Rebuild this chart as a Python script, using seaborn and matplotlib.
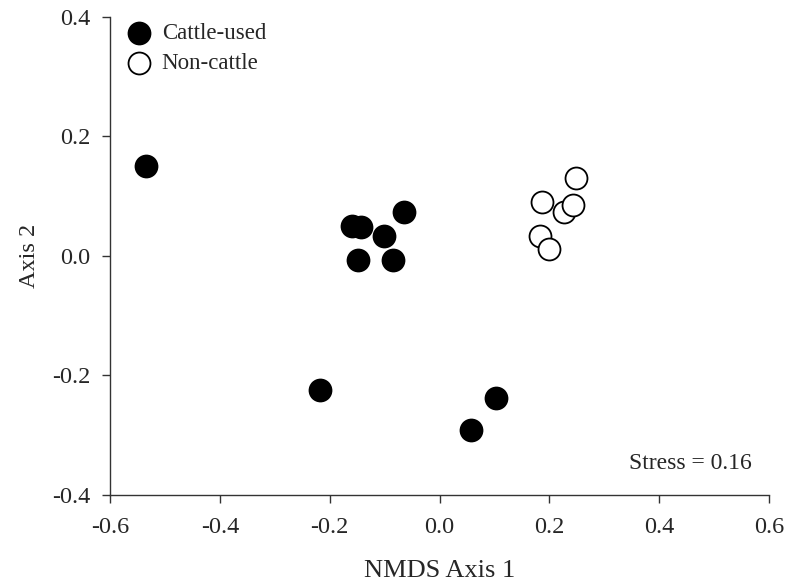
import numpy as np
import pandas as pd
import matplotlib
matplotlib.use("Agg")
import matplotlib.pyplot as plt
import seaborn as sns

# NMDS scores
cattle_x = [-0.534, -0.160, -0.143, -0.064, -0.101, -0.149, -0.085, -0.217, 0.102, 0.058]
cattle_y = [0.151, 0.051, 0.048, 0.073, 0.033, -0.007, -0.006, -0.224, -0.238, -0.291]
noncattle_x = [0.249, 0.186, 0.226, 0.243, 0.183, 0.199]
noncattle_y = [0.130, 0.091, 0.073, 0.086, 0.034, 0.012]
groups = ["Cattle-used", "Non-cattle"]
x_ticks = [-0.6, -0.4, -0.2, 0.0, 0.2, 0.4, 0.6]
y_ticks = [-0.4, -0.2, 0.0, 0.2, 0.4]

df = pd.DataFrame({
    "x": cattle_x + noncattle_x,
    "y": cattle_y + noncattle_y,
    "group": [groups[0]] * len(cattle_x) + [groups[1]] * len(noncattle_x),
})

sns.set_style("ticks")
plt.rcParams["font.family"] = ["Liberation Serif", "DejaVu Serif"]

fig = plt.figure(figsize=(7.89, 5.86), dpi=100)
ax = fig.add_axes([0.1394, 0.1553, 0.8353, 0.8157])

styles = {
    "Cattle-used": dict(color="black", edgecolor="black"),
    "Non-cattle": dict(color="white", edgecolor="black"),
}
for g in groups:
    sns.scatterplot(data=df[df["group"] == g], x="x", y="y", ax=ax, s=250,
                    linewidth=1.3, label=g, zorder=3, **styles[g])

ax.set_xlim(-0.6, 0.6)
ax.set_ylim(-0.4, 0.4)
ax.set_xticks(x_ticks)
ax.set_yticks(y_ticks)
ax.set_xticklabels([f"{t:.1f}" for t in x_ticks])
ax.set_yticklabels([f"{t:.1f}" for t in y_ticks])
ax.tick_params(direction="out", length=6, width=1, labelsize=17.5, color="#333333", pad=8)
ax.tick_params(axis="x", pad=10)
for sp in ["left", "bottom"]:
    ax.spines[sp].set_linewidth(1)
    ax.spines[sp].set_color("#333333")
sns.despine(ax=ax)

ax.set_xlabel("NMDS Axis 1", fontsize=19, labelpad=15.5)
ax.set_ylabel("Axis 2", fontsize=17.5, labelpad=9)

ax.text(0.974, 0.065, "Stress = 0.16", transform=ax.transAxes, fontsize=17,
        ha="right", va="center")

leg = ax.legend(loc="upper left", bbox_to_anchor=(-0.012, 1.017), frameon=False,
                fontsize=16.5, handletextpad=0.0, labelspacing=0.42,
                markerscale=1.0, borderaxespad=0.2)

fig.savefig("out.png", dpi=100)
